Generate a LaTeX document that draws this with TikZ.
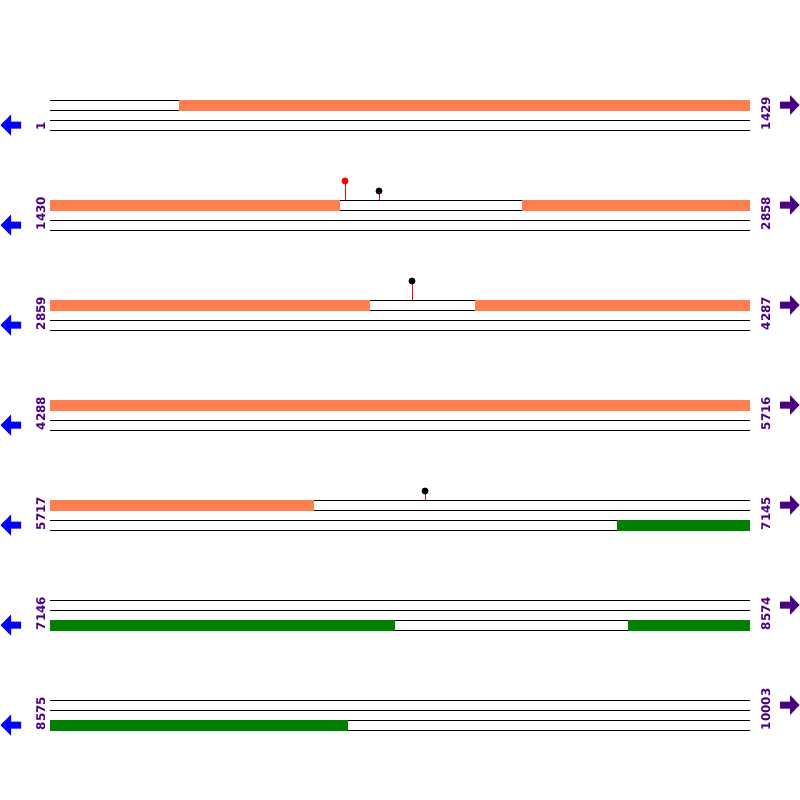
\documentclass[tikz,border=0pt]{standalone}
\usepackage{fontspec}
\setmainfont{DejaVu Sans}
\usetikzlibrary{calc,positioning}

\definecolor{exon}{HTML}{FF7F50}
\definecolor{utr}{HTML}{008000}
\definecolor{indigo}{HTML}{4B0082}

\tikzset{
  track/.style={black, line width=1pt},
  seqno/.style={rotate=90, anchor=base west, inner sep=0pt, text=indigo, font=\fontsize{12}{12}\selectfont\bfseries},
  stem/.style={red, line width=1pt},
}

\begin{document}
\begin{tikzpicture}[x=1pt, y=-1pt]
    \useasboundingbox (0,0) rectangle (800,800);
    % seven rows of two tracks
    \foreach \r/\s/\e in {0/1/1429, 1/1430/2858, 2/2859/4287, 3/4288/5716,
                          4/5717/7145, 5/7146/8574, 6/8575/10003} {
      \begin{scope}[yshift=-\r*100pt]
        \foreach \y in {100,110,120,130}
          \draw[track] (50,\y) -- (750,\y);
        \node[seqno] (start\r) at (45,130.5) {\s};
        \node[seqno] (end\r) at (770,130.5) {\e};
        \fill[blue] (0.5,125) -- (11,114.5) -- (11,121.5) -- (21,121.5) -- (21,128.5)
                    -- (11,128.5) -- (11,135.5) -- cycle;
        \fill[indigo] (799.5,105) -- (790,95) -- (790,101.5) -- (780,101.5) -- (780,108.5)
                    -- (790,108.5) -- (790,115) -- cycle;
      \end{scope}
    }
    % upper track blocks
    \fill[exon] (179,99.5) rectangle (750,110.5);
    \fill[exon] (50,199.5) rectangle (340,210.5);
    \fill[exon] (522,199.5) rectangle (750,210.5);
    \fill[exon] (50,299.5) rectangle (370,310.5);
    \fill[exon] (475,299.5) rectangle (750,310.5);
    \fill[exon] (50,399.5) rectangle (750,410.5);
    \fill[exon] (50,499.5) rectangle (314,510.5);
    % lower track blocks
    \fill[utr] (617,519.5) rectangle (750,530.5);
    \fill[utr] (50,619.5) rectangle (395,630.5);
    \fill[utr] (628,619.5) rectangle (750,630.5);
    \fill[utr] (50,719.5) rectangle (348,730.5);
    % pins
    \draw[stem] (345,200) -- (345,181);
    \fill[red] (345,181) circle (3.5);
    \draw[stem] (379,200) -- (379,191);
    \fill[black] (379,191) circle (3.5);
    \draw[stem] (412,300) -- (412,281);
    \fill[black] (412,281) circle (3.5);
    \draw[stem] (425,500) -- (425,491);
    \fill[black] (425,491) circle (3.5);
\end{tikzpicture}
\end{document}
